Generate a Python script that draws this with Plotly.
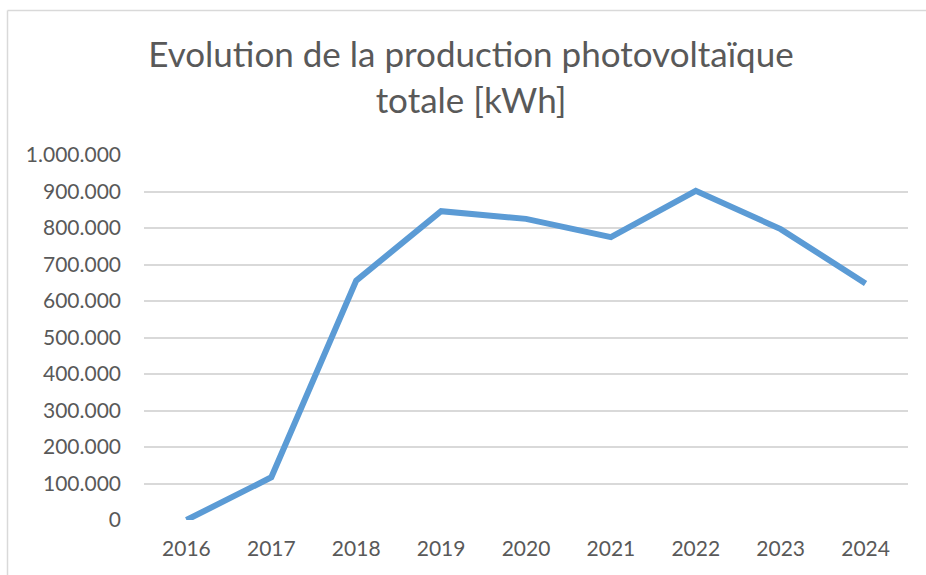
import plotly.graph_objects as go

years = ["2016", "2017", "2018", "2019", "2020", "2021", "2022", "2023", "2024"]
production_kwh = [0, 117000, 656000, 846000, 825000, 775000, 902000, 797000, 648000]
y_ticks = list(range(0, 1000001, 100000))
y_tick_labels = [f"{v:,}".replace(",", ".") for v in y_ticks]

W, H = 926, 575
L, R, T, B = 144, 18, 155, 55
plot_w = W - L - R
plot_h = H - T - B

font_family = "Lato, 'Noto Sans', sans-serif"
text_color = "#595959"

fig = go.Figure()
fig.add_trace(go.Scatter(
    x=years,
    y=production_kwh,
    mode="lines",
    line=dict(color="#5B9BD5", width=6),
    hoverinfo="x+y",
))

def px_to_paper_x(px):
    return (px - L) / plot_w

def px_to_paper_y(py):
    return (H - B - py) / plot_h

# outer chart frame (left and top edges)
frame_color = "#D9D9D9"
shapes = [
    dict(type="line", xref="paper", yref="paper",
         x0=px_to_paper_x(7.5), x1=px_to_paper_x(W + 5),
         y0=px_to_paper_y(10.5), y1=px_to_paper_y(10.5),
         line=dict(color=frame_color, width=1.5)),
    dict(type="line", xref="paper", yref="paper",
         x0=px_to_paper_x(7.5), x1=px_to_paper_x(7.5),
         y0=px_to_paper_y(10.5), y1=px_to_paper_y(H + 5),
         line=dict(color=frame_color, width=1.5)),
]

fig.update_layout(
    width=W, height=H,
    margin=dict(l=L, r=R, t=T, b=B, pad=0),
    paper_bgcolor="white",
    plot_bgcolor="white",
    showlegend=False,
    shapes=shapes,
    title=dict(
        text="Evolution de la production photovoltaïque<br>totale [kWh]",
        x=471 / W, xanchor="center",
        y=1 - 67 / H, yanchor="top",
        xref="container", yref="container",
        font=dict(family=font_family, size=35, color=text_color),
    ),
    xaxis=dict(
        type="category",
        range=[-0.5, 8.5],
        showgrid=False,
        showline=False,
        zeroline=False,
        ticks="",
        ticklabelstandoff=14,
        tickfont=dict(family=font_family, size=21, color=text_color),
    ),
    yaxis=dict(
        range=[0, 1000000],
        tickvals=y_ticks,
        ticktext=y_tick_labels,
        showgrid=True,
        gridcolor="#D9D9D9",
        gridwidth=1.5,
        zeroline=False,
        showline=False,
        ticks="",
        ticklabelstandoff=22,
        tickfont=dict(family=font_family, size=21, color=text_color),
    ),
)

fig.write_html("out.html")
